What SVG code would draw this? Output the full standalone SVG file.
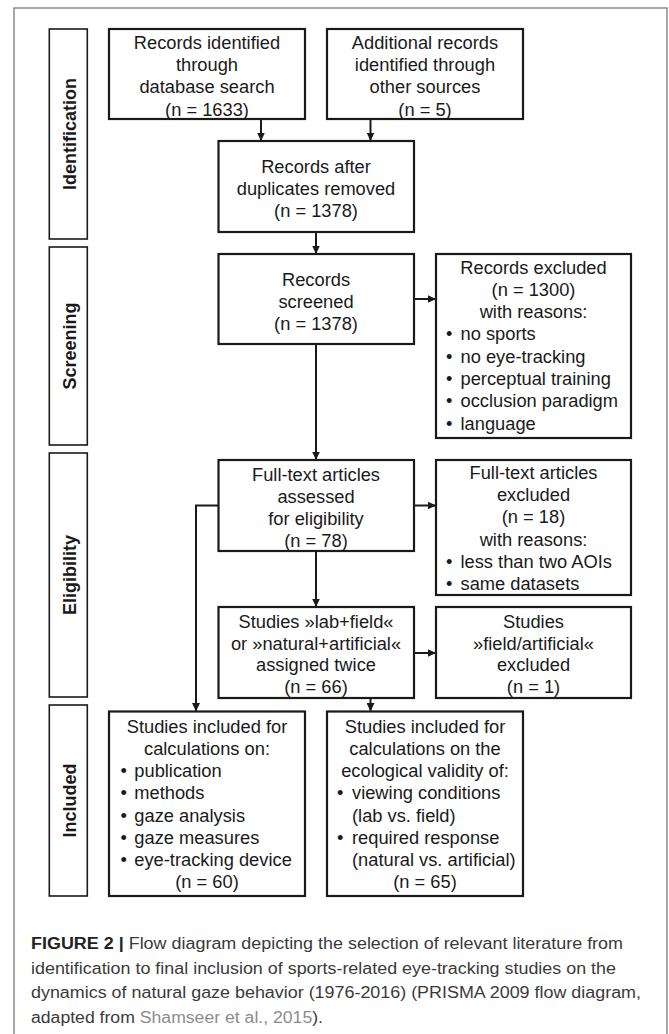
<svg xmlns="http://www.w3.org/2000/svg" width="669" height="1034" viewBox="0 0 669 1034">
<style>
.bx{fill:#fff;stroke:#1a1a1a;stroke-width:2.2}
.side{fill:#fff;stroke:#1a1a1a;stroke-width:1.6}
.t{font-family:"Liberation Sans",Arial,sans-serif;font-size:18.3px;fill:#1a1a1a}
.c{text-anchor:middle}
.lab{font-family:"Liberation Sans",Arial,sans-serif;font-size:18px;font-weight:bold;fill:#1a1a1a;text-anchor:middle}
.cap{font-family:"Liberation Sans",Arial,sans-serif;font-size:15.6px;fill:#3a3a3a}
.link{fill:#8c8c8c}
.ln{fill:none;stroke:#1a1a1a;stroke-width:2}
</style>
<defs>
<marker id="ah" markerUnits="userSpaceOnUse" markerWidth="9" markerHeight="8" refX="8.5" refY="4" orient="auto">
<path d="M0,0 L8.5,4 L0,8 z" fill="#1a1a1a"/>
</marker>
</defs>
<rect x="14" y="8" width="653" height="1040" fill="#fff" stroke="#8c8c8c" stroke-width="1.5"/>

<g id="side-identification"><rect class="side" x="49.3" y="29" width="38" height="210"/><text class="lab" transform="translate(76,134) rotate(-90)">Identification</text></g>
<g id="side-screening"><rect class="side" x="49.3" y="247" width="38" height="198"/><text class="lab" transform="translate(76,346) rotate(-90)">Screening</text></g>
<g id="side-eligibility"><rect class="side" x="49.3" y="453" width="38" height="244"/><text class="lab" transform="translate(76,575) rotate(-90)">Eligibility</text></g>
<g id="side-included"><rect class="side" x="49.3" y="705" width="38" height="191"/><text class="lab" transform="translate(76,800.5) rotate(-90)">Included</text></g>

<g id="connectors">
<line class="ln" x1="261" y1="119" x2="261" y2="141" marker-end="url(#ah)"/>
<line class="ln" x1="370.5" y1="119" x2="370.5" y2="141" marker-end="url(#ah)"/>
<line class="ln" x1="316" y1="232" x2="316" y2="254" marker-end="url(#ah)"/>
<line class="ln" x1="414" y1="299" x2="436" y2="299" marker-end="url(#ah)"/>
<line class="ln" x1="316" y1="344" x2="316" y2="460" marker-end="url(#ah)"/>
<line class="ln" x1="414" y1="505.5" x2="436" y2="505.5" marker-end="url(#ah)"/>
<polyline class="ln" points="218,505.5 196,505.5 196,711.5" marker-end="url(#ah)"/>
<line class="ln" x1="316" y1="551" x2="316" y2="607" marker-end="url(#ah)"/>
<line class="ln" x1="414" y1="653" x2="436" y2="653" marker-end="url(#ah)"/>
<line class="ln" x1="370.5" y1="698" x2="370.5" y2="711.5" marker-end="url(#ah)"/>
</g>

<g id="n-database">
<rect class="bx" x="109" y="29" width="196" height="90"/>
<text class="t c" x="207" y="49">Records identified</text>
<text class="t c" x="207" y="71.2">through</text>
<text class="t c" x="207" y="93.4">database search</text>
<text class="t c" x="207" y="115.6">(n = 1633)</text>
</g>
<g id="n-additional">
<rect class="bx" x="327" y="29" width="196" height="90"/>
<text class="t c" x="425" y="49">Additional records</text>
<text class="t c" x="425" y="71.2">identified through</text>
<text class="t c" x="425" y="93.4">other sources</text>
<text class="t c" x="425" y="115.6">(n = 5)</text>
</g>
<g id="n-duplicates">
<rect class="bx" x="218.5" y="141" width="195.5" height="91"/>
<text class="t c" x="316" y="172.5">Records after</text>
<text class="t c" x="316" y="194.7">duplicates removed</text>
<text class="t c" x="316" y="216.9">(n = 1378)</text>
</g>
<g id="n-screened">
<rect class="bx" x="218.5" y="254" width="195.5" height="90"/>
<text class="t c" x="316" y="285.5">Records</text>
<text class="t c" x="316" y="307.8">screened</text>
<text class="t c" x="316" y="330">(n = 1378)</text>
</g>
<g id="n-excluded">
<rect class="bx" x="436" y="254" width="195" height="184"/>
<text class="t c" x="533.5" y="273.5">Records excluded</text>
<text class="t c" x="533.5" y="295.8">(n = 1300)</text>
<text class="t c" x="533.5" y="318.1">with reasons:</text>
<text class="t" x="446" y="340.4">•</text><text class="t" x="460.5" y="340.4">no sports</text>
<text class="t" x="446" y="362.7">•</text><text class="t" x="460.5" y="362.7">no eye-tracking</text>
<text class="t" x="446" y="385">•</text><text class="t" x="460.5" y="385">perceptual training</text>
<text class="t" x="446" y="407.3">•</text><text class="t" x="460.5" y="407.3">occlusion paradigm</text>
<text class="t" x="446" y="429.6">•</text><text class="t" x="460.5" y="429.6">language</text>
</g>
<g id="n-fulltext">
<rect class="bx" x="218.5" y="460" width="195.5" height="91"/>
<text class="t c" x="316" y="480.5">Full-text articles</text>
<text class="t c" x="316" y="502.8">assessed</text>
<text class="t c" x="316" y="525">for eligibility</text>
<text class="t c" x="316" y="547.2">(n = 78)</text>
</g>
<g id="n-fulltext-excluded">
<rect class="bx" x="436" y="460" width="195" height="135"/>
<text class="t c" x="533.5" y="479">Full-text articles</text>
<text class="t c" x="533.5" y="501.2">excluded</text>
<text class="t c" x="533.5" y="523.4">(n = 18)</text>
<text class="t c" x="533.5" y="545.6">with reasons:</text>
<text class="t" x="446" y="567.8">•</text><text class="t" x="460.5" y="567.8">less than two AOIs</text>
<text class="t" x="446" y="590">•</text><text class="t" x="460.5" y="590">same datasets</text>
</g>
<g id="n-twice">
<rect class="bx" x="218.5" y="607" width="195.5" height="91"/>
<text class="t c" x="316" y="627.5">Studies »lab+field«</text>
<text class="t c" x="316" y="649.5">or »natural+artificial«</text>
<text class="t c" x="316" y="671.3">assigned twice</text>
<text class="t c" x="316" y="693.3">(n = 66)</text>
</g>
<g id="n-field-excluded">
<rect class="bx" x="436" y="607" width="195" height="91"/>
<text class="t c" x="533.5" y="627.5">Studies</text>
<text class="t c" x="533.5" y="649.5">»field/artificial«</text>
<text class="t c" x="533.5" y="671.3">excluded</text>
<text class="t c" x="533.5" y="693.3">(n = 1)</text>
</g>
<g id="n-included-1">
<rect class="bx" x="109" y="711.5" width="196" height="184.5"/>
<text class="t c" x="207" y="732.7">Studies included for</text>
<text class="t c" x="207" y="755">calculations on:</text>
<text class="t" x="120.5" y="777.2">•</text><text class="t" x="134.3" y="777.2">publication</text>
<text class="t" x="120.5" y="799.4">•</text><text class="t" x="134.3" y="799.4">methods</text>
<text class="t" x="120.5" y="821.6">•</text><text class="t" x="134.3" y="821.6">gaze analysis</text>
<text class="t" x="120.5" y="843.8">•</text><text class="t" x="134.3" y="843.8">gaze measures</text>
<text class="t" x="120.5" y="866">•</text><text class="t" x="134.3" y="866">eye-tracking device</text>
<text class="t c" x="207" y="888.2">(n = 60)</text>
</g>
<g id="n-included-2">
<rect class="bx" x="327" y="711.5" width="196" height="184.5"/>
<text class="t c" x="425" y="732.7">Studies included for</text>
<text class="t c" x="425" y="755">calculations on the</text>
<text class="t c" x="425" y="777.2">ecological validity of:</text>
<text class="t" x="337" y="799.4">•</text><text class="t" x="352" y="799.4">viewing conditions</text>
<text class="t" x="352" y="821.6">(lab vs. field)</text>
<text class="t" x="337" y="843.8">•</text><text class="t" x="352" y="843.8">required response</text>
<text class="t" x="352" y="866">(natural vs. artificial)</text>
<text class="t c" x="425" y="888.2">(n = 65)</text>
</g>

<g id="caption">
<text class="cap" x="31" y="949" textLength="592" lengthAdjust="spacingAndGlyphs"><tspan font-weight="bold" fill="#222">FIGURE 2 |</tspan> Flow diagram depicting the selection of relevant literature from</text>
<text class="cap" x="31" y="973.5" textLength="585" lengthAdjust="spacingAndGlyphs">identification to final inclusion of sports-related eye-tracking studies on the</text>
<text class="cap" x="31" y="998" textLength="610" lengthAdjust="spacingAndGlyphs">dynamics of natural gaze behavior (1976-2016) (PRISMA 2009 flow diagram,</text>
<text class="cap" x="31" y="1022.5" textLength="292" lengthAdjust="spacingAndGlyphs">adapted from <tspan class="link">Shamseer et al., 2015</tspan>).</text>
</g>
</svg>
